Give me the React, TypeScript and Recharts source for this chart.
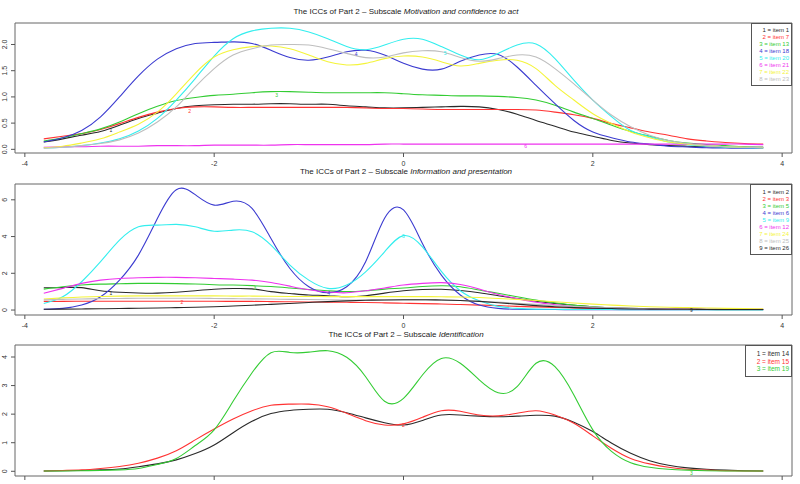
import React from 'react';
import { LineChart, Line, XAxis, YAxis, ReferenceArea, ReferenceDot } from 'recharts';

// ability grid shared by every curve
const thetaValues = [
  -3.8, -3.6, -3.4, -3.2, -3.0, -2.8, -2.6, -2.4, -2.2, -2.0,
  -1.8, -1.6, -1.4, -1.2, -1.0, -0.8, -0.6, -0.4, -0.2, 0.0,
  0.2, 0.4, 0.6, 0.8, 1.0, 1.2, 1.4, 1.6, 1.8, 2.0,
  2.2, 2.4, 2.6, 2.8, 3.0, 3.2, 3.4, 3.6, 3.8,
];
const xTicks = [-4, -2, 0, 2, 4];

// Panel 1 - Motivation and confidence to act
const p1Item1 = [0.14, 0.20, 0.27, 0.34, 0.46, 0.59, 0.69, 0.78, 0.83, 0.85, 0.86, 0.86, 0.87, 0.87, 0.86, 0.86, 0.83, 0.81, 0.79, 0.79, 0.80, 0.81, 0.82, 0.81, 0.76, 0.67, 0.55, 0.44, 0.33, 0.25, 0.17, 0.12, 0.09, 0.07, 0.06, 0.05, 0.04, 0.04, 0.04];
const p1Item7 = [0.20, 0.25, 0.30, 0.38, 0.49, 0.61, 0.71, 0.78, 0.81, 0.81, 0.80, 0.80, 0.80, 0.80, 0.80, 0.80, 0.80, 0.79, 0.78, 0.78, 0.77, 0.76, 0.76, 0.76, 0.76, 0.76, 0.75, 0.71, 0.66, 0.59, 0.49, 0.41, 0.33, 0.27, 0.20, 0.16, 0.13, 0.11, 0.10];
const p1Item13 = [0.16, 0.22, 0.30, 0.39, 0.52, 0.68, 0.82, 0.93, 0.99, 1.03, 1.05, 1.08, 1.10, 1.10, 1.09, 1.08, 1.08, 1.08, 1.08, 1.06, 1.04, 1.03, 1.02, 1.02, 1.01, 0.99, 0.94, 0.84, 0.71, 0.59, 0.46, 0.34, 0.25, 0.17, 0.12, 0.09, 0.07, 0.05, 0.04];
const p1Item18 = [0.14, 0.22, 0.36, 0.62, 1.0, 1.40, 1.72, 1.92, 2.02, 2.04, 2.05, 2.02, 1.89, 1.75, 1.70, 1.76, 1.86, 1.89, 1.80, 1.64, 1.53, 1.53, 1.68, 1.80, 1.81, 1.57, 1.22, 0.87, 0.55, 0.33, 0.22, 0.14, 0.10, 0.06, 0.045, 0.03, 0.025, 0.02, 0.02];
const p1Item20 = [0.025, 0.04, 0.07, 0.12, 0.20, 0.35, 0.59, 0.94, 1.35, 1.78, 2.11, 2.26, 2.31, 2.31, 2.24, 2.11, 1.96, 1.90, 1.99, 2.10, 2.10, 1.96, 1.80, 1.71, 1.83, 1.99, 2.01, 1.73, 1.32, 0.94, 0.62, 0.36, 0.24, 0.14, 0.09, 0.06, 0.04, 0.03, 0.025];
const p1Item21 = [0.04, 0.05, 0.05, 0.06, 0.06, 0.06, 0.07, 0.07, 0.07, 0.08, 0.08, 0.08, 0.08, 0.09, 0.09, 0.09, 0.09, 0.09, 0.10, 0.10, 0.10, 0.10, 0.10, 0.10, 0.10, 0.10, 0.10, 0.10, 0.10, 0.10, 0.10, 0.10, 0.10, 0.10, 0.10, 0.10, 0.10, 0.10, 0.09];
const p1Item22 = [0.03, 0.06, 0.12, 0.20, 0.33, 0.48, 0.71, 1.06, 1.45, 1.76, 1.90, 1.96, 1.97, 1.92, 1.80, 1.67, 1.61, 1.64, 1.73, 1.78, 1.76, 1.67, 1.59, 1.64, 1.70, 1.70, 1.54, 1.22, 0.94, 0.68, 0.49, 0.33, 0.22, 0.14, 0.10, 0.07, 0.05, 0.04, 0.03];
const p1Item23 = [0.02, 0.04, 0.07, 0.11, 0.18, 0.31, 0.52, 0.81, 1.19, 1.54, 1.80, 1.92, 1.99, 2.00, 1.99, 1.92, 1.83, 1.75, 1.76, 1.84, 1.88, 1.86, 1.75, 1.68, 1.73, 1.80, 1.76, 1.54, 1.25, 0.94, 0.65, 0.43, 0.27, 0.17, 0.11, 0.07, 0.05, 0.04, 0.03];

// Panel 2 - Information and presentation
const p2Item2 = [1.21, 1.22, 1.22, 1.05, 0.97, 0.93, 0.92, 0.97, 1.05, 1.13, 1.17, 1.15, 1.00, 0.90, 0.82, 0.78, 0.72, 0.78, 0.92, 1.05, 1.12, 1.13, 1.06, 0.94, 0.78, 0.62, 0.48, 0.36, 0.26, 0.18, 0.13, 0.09, 0.07, 0.06, 0.05, 0.04, 0.04, 0.03, 0.03];
const p2Item3 = [0.47, 0.47, 0.48, 0.48, 0.48, 0.48, 0.48, 0.48, 0.48, 0.48, 0.47, 0.47, 0.46, 0.45, 0.44, 0.43, 0.42, 0.41, 0.39, 0.37, 0.35, 0.33, 0.30, 0.27, 0.24, 0.20, 0.17, 0.14, 0.11, 0.09, 0.07, 0.06, 0.05, 0.04, 0.04, 0.03, 0.03, 0.03, 0.03];
const p2Item5 = [1.14, 1.27, 1.36, 1.41, 1.43, 1.45, 1.45, 1.44, 1.42, 1.38, 1.36, 1.33, 1.28, 1.20, 1.12, 1.05, 1.00, 1.05, 1.14, 1.20, 1.28, 1.32, 1.27, 1.09, 0.91, 0.72, 0.54, 0.40, 0.27, 0.18, 0.11, 0.07, 0.05, 0.04, 0.03, 0.03, 0.02, 0.02, 0.02];
const p2Item6 = [0.04, 0.09, 0.27, 0.72, 1.63, 2.99, 4.98, 6.55, 6.28, 5.71, 5.92, 5.53, 3.89, 2.26, 1.27, 0.94, 1.27, 2.63, 5.00, 5.45, 3.62, 1.90, 0.82, 0.27, 0.09, 0.04, 0.03, 0.03, 0.02, 0.02, 0.02, 0.02, 0.02, 0.02, 0.02, 0.02, 0.02, 0.02, 0.02];
const p2Item9 = [0.36, 0.72, 1.54, 2.63, 3.80, 4.53, 4.62, 4.66, 4.53, 4.29, 4.35, 4.26, 3.53, 2.45, 1.63, 1.18, 1.36, 2.08, 3.17, 4.05, 3.44, 2.10, 1.05, 0.50, 0.20, 0.09, 0.05, 0.04, 0.03, 0.03, 0.03, 0.02, 0.02, 0.02, 0.02, 0.02, 0.02, 0.02, 0.02];
const p2Item12 = [0.91, 1.18, 1.45, 1.63, 1.72, 1.76, 1.78, 1.78, 1.76, 1.72, 1.68, 1.63, 1.50, 1.30, 1.10, 0.98, 0.94, 1.05, 1.20, 1.36, 1.45, 1.49, 1.39, 1.14, 0.85, 0.62, 0.42, 0.29, 0.19, 0.13, 0.09, 0.07, 0.06, 0.05, 0.04, 0.04, 0.04, 0.04, 0.04];
const p2Item24 = [0.60, 0.66, 0.71, 0.74, 0.76, 0.77, 0.77, 0.77, 0.77, 0.77, 0.76, 0.76, 0.75, 0.74, 0.74, 0.73, 0.73, 0.73, 0.73, 0.73, 0.73, 0.72, 0.71, 0.68, 0.63, 0.58, 0.52, 0.45, 0.38, 0.32, 0.27, 0.22, 0.18, 0.15, 0.13, 0.11, 0.09, 0.08, 0.07];
const p2Item25 = [0.55, 0.58, 0.60, 0.62, 0.63, 0.64, 0.64, 0.64, 0.64, 0.63, 0.62, 0.61, 0.60, 0.58, 0.57, 0.56, 0.55, 0.55, 0.55, 0.55, 0.55, 0.54, 0.52, 0.48, 0.43, 0.37, 0.31, 0.25, 0.20, 0.16, 0.12, 0.09, 0.07, 0.05, 0.04, 0.04, 0.03, 0.03, 0.03];
const p2Item26 = [0.04, 0.05, 0.06, 0.07, 0.08, 0.10, 0.11, 0.13, 0.15, 0.18, 0.22, 0.26, 0.31, 0.36, 0.41, 0.46, 0.50, 0.53, 0.55, 0.56, 0.56, 0.55, 0.52, 0.47, 0.40, 0.32, 0.24, 0.18, 0.13, 0.10, 0.08, 0.06, 0.05, 0.04, 0.04, 0.03, 0.03, 0.03, 0.03];

// Panel 3 - Identification
const p3Item14 = [0.01, 0.02, 0.03, 0.05, 0.08, 0.16, 0.26, 0.40, 0.62, 0.92, 1.35, 1.75, 2.02, 2.13, 2.17, 2.17, 2.05, 1.87, 1.70, 1.62, 1.78, 1.97, 1.97, 1.93, 1.91, 1.93, 1.96, 1.93, 1.72, 1.39, 0.98, 0.63, 0.37, 0.21, 0.12, 0.07, 0.04, 0.02, 0.01];
const p3Item15 = [0.01, 0.03, 0.05, 0.10, 0.17, 0.28, 0.46, 0.72, 1.10, 1.48, 1.83, 2.12, 2.31, 2.35, 2.35, 2.26, 2.03, 1.77, 1.62, 1.66, 1.89, 2.12, 2.10, 1.97, 1.94, 2.03, 2.12, 1.97, 1.68, 1.24, 0.80, 0.45, 0.26, 0.14, 0.07, 0.04, 0.02, 0.01, 0.01];
const p3Item19 = [0.01, 0.01, 0.02, 0.03, 0.05, 0.10, 0.24, 0.45, 0.90, 1.45, 2.45, 3.45, 4.15, 4.16, 4.17, 4.22, 3.99, 3.31, 2.45, 2.55, 3.37, 3.95, 3.78, 3.20, 2.75, 2.96, 3.78, 3.66, 2.67, 1.45, 0.69, 0.30, 0.14, 0.07, 0.04, 0.02, 0.01, 0.01, 0.01];

// R palette 1..9
const COLORS = ['#2a2a2a', '#ff3333', '#33cc33', '#3b3bd0', '#33eeee', '#ee33ee', '#f4f43a', '#bebebe', '#2a2a2a'];
const FONT = '"Liberation Sans", Arial, sans-serif';

const panel1Series = [
  { label: '1 = item 1', values: p1Item1 },
  { label: '2 = item 7', values: p1Item7 },
  { label: '3 = item 13', values: p1Item13 },
  { label: '4 = item 18', values: p1Item18 },
  { label: '5 = item 20', values: p1Item20 },
  { label: '6 = item 21', values: p1Item21 },
  { label: '7 = item 22', values: p1Item22 },
  { label: '8 = item 23', values: p1Item23 },
];
const panel2Series = [
  { label: '1 = item 2', values: p2Item2 },
  { label: '2 = item 3', values: p2Item3 },
  { label: '3 = item 5', values: p2Item5 },
  { label: '4 = item 6', values: p2Item6 },
  { label: '5 = item 9', values: p2Item9 },
  { label: '6 = item 12', values: p2Item12 },
  { label: '7 = item 24', values: p2Item24 },
  { label: '8 = item 25', values: p2Item25 },
  { label: '9 = item 26', values: p2Item26 },
];
const panel3Series = [
  { label: '1 = item 14', values: p3Item14 },
  { label: '2 = item 15', values: p3Item15 },
  { label: '3 = item 19', values: p3Item19 },
];

// small curve numbers printed on the lines: [series number, theta, value]
const panel1Marks = [[1, -3.09, 0.37], [2, -2.26, 0.73], [3, -1.34, 1.04], [4, -0.5, 1.82], [5, 0.44, 1.83], [6, 1.29, 0.06]];
const panel2Marks = [[1, -3.09, 0.94], [2, -2.34, 0.42], [3, -1.57, 1.18], [4, -0.79, 0.9], [5, 0.0, 4.0], [9, 3.04, 0.0]];
const panel3Marks = [[2, 0.0, 1.6], [3, 3.04, -0.07]];

const X_DOMAIN: [number, number] = [-4.104, 4.104];

const RotatedTick = (props: any) => {
  const { x, y, payload, decimals } = props;
  const tx = x - 2;
  return (
    <text x={tx} y={y} transform={`rotate(-90, ${tx}, ${y})`} textAnchor="middle" fontSize={7} fill="#333" fontFamily={FONT}>
      {decimals ? Number(payload.value).toFixed(1) : payload.value}
    </text>
  );
};

// bottom panel: its tick numbers fall below the picture, only the marks show
const NoLabelTick = () => <g />;

interface PanelProps {
  top: number;
  height: number;
  marginTop: number;
  yDomain: [number, number];
  yTicks: number[];
  decimals?: boolean;
  hideXLabels?: boolean;
  series: { label: string; values: number[] }[];
  marks: number[][];
}

const Panel = ({ top, height, marginTop, yDomain, yTicks, decimals, hideXLabels, series, marks }: PanelProps) => {
  const data = thetaValues.map((x, i) => {
    const row: any = { x };
    series.forEach((s, k) => {
      row['s' + k] = s.values[i];
    });
    return row;
  });

  return (
    <div style={{ position: 'absolute', left: 0, top }}>
      <LineChart width={800} height={height} data={data} margin={{ top: marginTop, right: 8, left: 0, bottom: 0 }}>
        <XAxis
          dataKey="x"
          type="number"
          domain={X_DOMAIN}
          ticks={xTicks}
          allowDataOverflow
          height={17}
          axisLine={false}
          tickLine={{ stroke: '#555' }}
          tickSize={4}
          tickMargin={4}
          tick={hideXLabels ? <NoLabelTick /> : { fontSize: 7, fill: '#333', fontFamily: FONT }}
        />
        <YAxis
          type="number"
          domain={yDomain}
          ticks={yTicks}
          allowDataOverflow
          width={15}
          axisLine={false}
          tickLine={{ stroke: '#555' }}
          tickSize={4}
          tick={<RotatedTick decimals={decimals} />}
        />
        <ReferenceArea x1={X_DOMAIN[0]} x2={X_DOMAIN[1]} y1={yDomain[0]} y2={yDomain[1]} fill="none" stroke="#666" strokeWidth={1} />
        {series.map((s, k) => (
          <Line
            key={s.label}
            type="natural"
            dataKey={'s' + k}
            stroke={COLORS[k]}
            strokeWidth={1.1}
            dot={false}
            isAnimationActive={false}
          />
        ))}
        {marks.map(([n, mx, my]) => (
          <ReferenceDot
            key={'m' + n}
            x={mx}
            y={my}
            r={0}
            stroke="none"
            fill="none"
            label={{ value: String(n), position: 'center', fill: COLORS[n - 1], fontSize: 5, fontFamily: FONT }}
          />
        ))}
      </LineChart>
    </div>
  );
};

const LegendBox = ({ left, top, width, lineHeight, padTop, fontSize, series }: any) => (
  <div
    style={{
      position: 'absolute',
      left,
      top,
      width,
      boxSizing: 'border-box',
      border: '1px solid #555',
      background: '#fff',
      paddingTop: padTop,
      paddingBottom: padTop - 1,
      paddingRight: 2,
      textAlign: 'right',
      fontFamily: FONT,
      fontSize,
      lineHeight: lineHeight + 'px',
    }}
  >
    {series.map((s: any, k: number) => (
      <div key={s.label} style={{ color: COLORS[k], whiteSpace: 'nowrap' }}>
        {s.label}
      </div>
    ))}
  </div>
);

const Title = ({ top, italic }: { top: number; italic: string }) => (
  <div
    style={{
      position: 'absolute',
      left: 6,
      top,
      width: 800,
      textAlign: 'center',
      fontFamily: FONT,
      fontSize: 8,
      lineHeight: '10px',
      color: '#222',
    }}
  >
    The ICCs of Part 2 – Subscale <i>{italic}</i>
  </div>
);

export default function App() {
  return (
    <div style={{ position: 'absolute', left: 0, top: 0, width: 800, height: 484, overflow: 'hidden', background: '#fff' }}>
      <Panel top={0} height={170} marginTop={23} yDomain={[-0.07, 2.41]} yTicks={[0, 0.5, 1, 1.5, 2]} decimals series={panel1Series} marks={panel1Marks} />
      <Panel top={170} height={162} marginTop={14} yDomain={[-0.27, 6.86]} yTicks={[0, 1, 2, 3, 4, 5, 6]} series={panel2Series} marks={panel2Marks} />
      <Panel top={330} height={163} marginTop={15} yDomain={[-0.165, 4.42]} yTicks={[0, 1, 2, 3, 4]} hideXLabels series={panel3Series} marks={panel3Marks} />

      <Title top={7} italic="Motivation and confidence to act" />
      <Title top={167} italic="Information and presentation" />
      <Title top={330} italic="Identification" />

      <LegendBox left={751} top={23} width={41} lineHeight={7.1} padTop={2.5} fontSize={6} series={panel1Series} />
      <LegendBox left={750} top={184} width={42} lineHeight={7} padTop={3.5} fontSize={6} series={panel2Series} />
      <LegendBox left={745} top={345} width={47} lineHeight={7.5} padTop={4} fontSize={6.5} series={panel3Series} />
    </div>
  );
}
